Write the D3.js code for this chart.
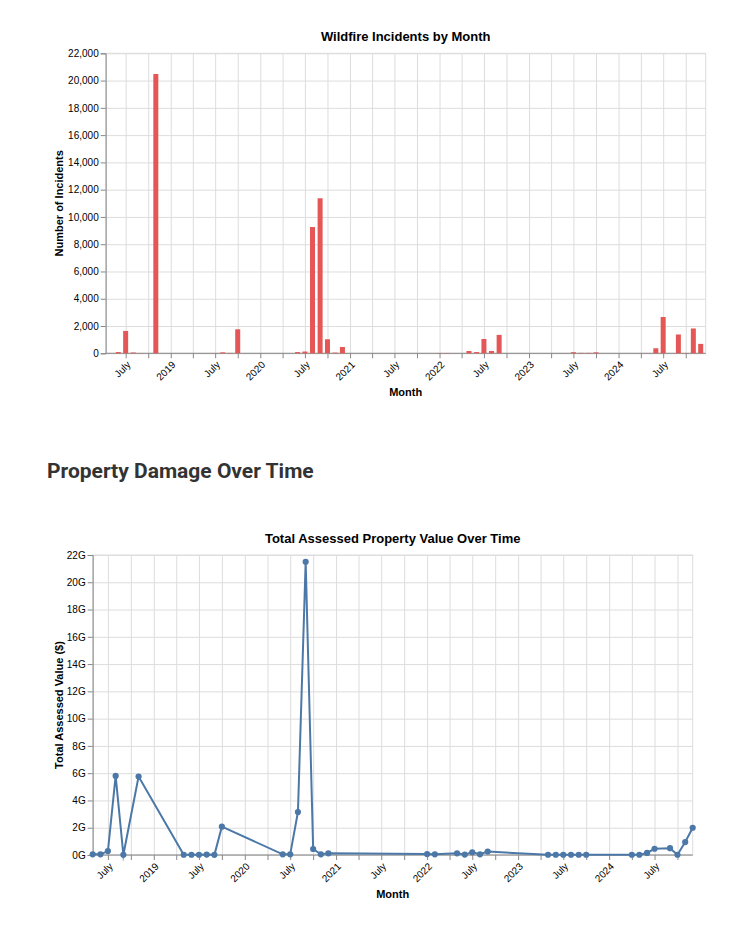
<!DOCTYPE html>
<html>
<head>
<meta charset="utf-8">
<script src="https://cdn.jsdelivr.net/npm/d3@7"></script>
<style>
body { margin: 0; background: #fff; }
svg { position: absolute; left: 0; }
svg text { font-family: "Liberation Sans", Arial, sans-serif; }
#incidents { top: 0; }
#damage { top: 500px; }
h2 { position: absolute; left: 47px; top: 459px; margin: 0; font-family: Roboto, sans-serif;
     font-size: 21px; line-height: 24px; font-weight: 700; color: #333; }
</style>
</head>
<body>
<svg id="incidents" width="754" height="420"></svg>
<h2>Property Damage Over Time</h2>
<svg id="damage" width="754" height="432"></svg>
<script>
// monthly wildfire incident counts
var incidentMonths = ["2018-05","2018-06","2018-07","2018-08","2018-09","2018-11",
  "2019-05","2019-06","2019-07","2019-08","2019-09","2019-10",
  "2020-06","2020-07","2020-08","2020-09","2020-10","2020-11","2020-12",
  "2022-01","2022-02","2022-05","2022-06","2022-07","2022-08","2022-09",
  "2023-05","2023-06","2023-07","2023-08","2023-09","2023-10",
  "2024-04","2024-05","2024-06","2024-07","2024-09","2024-10","2024-11","2024-12"];
var incidents = [5, 90, 1640, 60, 15, 20480,
  3, 3, 12, 70, 25, 1760,
  90, 130, 9260, 11370, 1030, 50, 460,
  20, 20, 170, 90, 1050, 170, 1350,
  5, 5, 80, 30, 30, 70,
  5, 5, 370, 2660, 1380, 20, 1820, 690];

// total assessed property value per month, in dollars
var valueMonths = incidentMonths;
var assessedValues = [0.05e9, 0.05e9, 0.29e9, 5.8e9, 0.02e9, 5.75e9,
  0.02e9, 0.02e9, 0.02e9, 0.03e9, 0.01e9, 2.08e9,
  0.05e9, 0.05e9, 3.15e9, 21.5e9, 0.44e9, 0.05e9, 0.12e9,
  0.07e9, 0.05e9, 0.12e9, 0.03e9, 0.2e9, 0.05e9, 0.25e9,
  0.02e9, 0.02e9, 0.02e9, 0.02e9, 0.02e9, 0.02e9,
  0.02e9, 0.02e9, 0.15e9, 0.46e9, 0.5e9, 0.02e9, 0.95e9, 2.0e9];

var parseMonth = d3.timeParse("%Y-%m");
var W = 600, H = 300;

function drawFrame(g, x, y, opts) {
  var xt = x.ticks(d3.timeMonth.every(3));
  var xfmt = x.tickFormat();

  // grid + view border
  g.append("g").attr("transform", "translate(0," + H + ")")
    .call(d3.axisBottom(x).tickValues(xt).tickSize(-H).tickFormat(""))
    .call(a => a.select(".domain").remove())
    .selectAll("line").attr("stroke", "#ddd");
  g.append("g")
    .call(d3.axisLeft(y).ticks(8).tickSize(-W).tickFormat(""))
    .call(a => a.select(".domain").remove())
    .selectAll("line").attr("stroke", "#ddd");
  g.append("rect").attr("width", W).attr("height", H)
    .attr("fill", "none").attr("stroke", "#ddd");

  // x axis
  var xa = g.append("g").attr("transform", "translate(0," + H + ")")
    .call(d3.axisBottom(x).tickValues(xt).tickSize(5).tickPadding(2)
      .tickFormat((d, i) => i % 2 == 0 ? xfmt(d) : ""));
  xa.select(".domain").remove();
  xa.selectAll("line").attr("stroke", "#888");
  xa.selectAll("text")
    .attr("y", 0).attr("dy", "0.71em")
    .attr("transform", "translate(0,7) rotate(-45)")
    .attr("text-anchor", "end")
    .attr("font-size", 10).attr("fill", "#000");
  xa.append("line").attr("x2", W).attr("stroke", "#888");

  // y axis
  var ya = g.append("g")
    .call(d3.axisLeft(y).ticks(8).tickSize(5).tickPadding(2).tickFormat(opts.yFormat));
  ya.select(".domain").attr("stroke", "#888");
  ya.selectAll("line").attr("stroke", "#888");
  ya.selectAll("text").attr("font-size", 10).attr("fill", "#000");

  // titles
  g.append("text").attr("x", W / 2).attr("y", -12)
    .attr("text-anchor", "middle").attr("font-size", 13).attr("font-weight", "bold")
    .text(opts.title);
  g.append("text").attr("x", W / 2).attr("y", H + 42.5)
    .attr("text-anchor", "middle").attr("font-size", 11).attr("font-weight", "bold")
    .text("Month");
  g.append("text").attr("transform", "translate(" + opts.yTitleX + "," + H / 2 + ") rotate(-90)")
    .attr("text-anchor", "middle").attr("font-size", 11).attr("font-weight", "bold")
    .text(opts.yTitle);
}

var allMonths = incidentMonths.concat(valueMonths).map(parseMonth);
var monthExtent = d3.extent(allMonths);

// ---- chart 1: incidents by month (bars) ----
var barData = incidentMonths.map((m, i) => ({date: parseMonth(m), value: incidents[i]}));
var g1 = d3.select("#incidents").append("g").attr("transform", "translate(105.7,53.3)");
var x1 = d3.scaleTime().domain(monthExtent).range([5, W - 5]);
var y1 = d3.scaleLinear().domain([0, d3.max(incidents)]).nice(8).range([H, 0]);

drawFrame(g1, x1, y1, {
  title: "Wildfire Incidents by Month",
  yTitle: "Number of Incidents",
  yTitleX: -43,
  yFormat: d3.format(",")
});

g1.append("g").selectAll("rect")
  .data(barData)
  .enter().append("rect")
  .attr("x", d => x1(d.date) - 2.5)
  .attr("width", 5)
  .attr("y", d => y1(d.value))
  .attr("height", d => H - y1(d.value))
  .attr("fill", "#e45756");

// ---- chart 2: property value over time (line + points) ----
var lineData = valueMonths.map((m, i) => ({date: parseMonth(m), value: assessedValues[i]}));
var g2 = d3.select("#damage").append("g").attr("transform", "translate(92.7,55)");
var x2 = d3.scaleTime().domain(monthExtent).range([0, W]);
var y2 = d3.scaleLinear().domain([0, d3.max(assessedValues)]).nice(8).range([H, 0]);

drawFrame(g2, x2, y2, {
  title: "Total Assessed Property Value Over Time",
  yTitle: "Total Assessed Value ($)",
  yTitleX: -30,
  yFormat: d => (d / 1e9) + "G"
});

var line = d3.line().x(d => x2(d.date)).y(d => y2(d.value));
g2.append("path")
  .datum(lineData)
  .attr("d", line)
  .attr("fill", "none")
  .attr("stroke", "#4c78a8")
  .attr("stroke-width", 2)
  .attr("stroke-miterlimit", 10);

g2.append("g").selectAll("circle")
  .data(lineData)
  .enter().append("circle")
  .attr("cx", d => x2(d.date))
  .attr("cy", d => y2(d.value))
  .attr("r", 3.1)
  .attr("fill", "#4c78a8");
</script>
</body>
</html>
